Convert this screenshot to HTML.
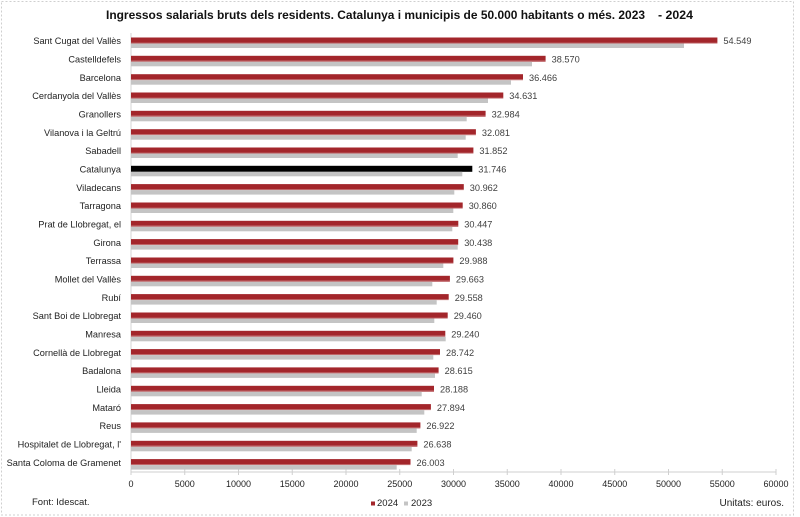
<!DOCTYPE html>
<html>
<head>
<meta charset="utf-8">
<style>
html,body{margin:0;padding:0;background:#fff;}
svg{display:block;}
text{font-family:"Liberation Sans",Arial,sans-serif;}
</style>
</head>
<body>
<svg width="800" height="517" viewBox="0 0 800 517" xmlns="http://www.w3.org/2000/svg">
<rect x="0" y="0" width="800" height="517" fill="#fff"/>
<rect x="1.5" y="1.5" width="792" height="513.5" fill="none" stroke="#cfcfcf" stroke-width="1" stroke-dasharray="2,2"/>

<!-- Title -->
<text x="106" y="19" font-size="11.5" font-weight="bold" fill="#111" textLength="539" lengthAdjust="spacingAndGlyphs">Ingressos salarials bruts dels residents. Catalunya i municipis de 50.000 habitants o més. 2023</text>
<text x="658" y="19" font-size="11.5" font-weight="bold" fill="#111" textLength="35" lengthAdjust="spacingAndGlyphs">- 2024</text>

<!-- axes -->
<line x1="131" y1="33" x2="131" y2="472" stroke="#d6d6d6" stroke-width="1"/>
<line x1="131" y1="472" x2="776" y2="472" stroke="#cfcfcf" stroke-width="1"/>
<g stroke="#cfcfcf" stroke-width="1">
<line x1="131" y1="469" x2="131" y2="475"/>
<line x1="184.75" y1="469" x2="184.75" y2="475"/>
<line x1="238.5" y1="469" x2="238.5" y2="475"/>
<line x1="292.25" y1="469" x2="292.25" y2="475"/>
<line x1="346" y1="469" x2="346" y2="475"/>
<line x1="399.75" y1="469" x2="399.75" y2="475"/>
<line x1="453.5" y1="469" x2="453.5" y2="475"/>
<line x1="507.25" y1="469" x2="507.25" y2="475"/>
<line x1="561" y1="469" x2="561" y2="475"/>
<line x1="614.75" y1="469" x2="614.75" y2="475"/>
<line x1="668.5" y1="469" x2="668.5" y2="475"/>
<line x1="722.25" y1="469" x2="722.25" y2="475"/>
<line x1="776" y1="469" x2="776" y2="475"/>
</g>
<g font-size="9" fill="#222" text-anchor="middle">
<text x="131" y="487">0</text>
<text x="184.75" y="487">5000</text>
<text x="238.5" y="487">10000</text>
<text x="292.25" y="487">15000</text>
<text x="346" y="487">20000</text>
<text x="399.75" y="487">25000</text>
<text x="453.5" y="487">30000</text>
<text x="507.25" y="487">35000</text>
<text x="561" y="487">40000</text>
<text x="614.75" y="487">45000</text>
<text x="668.5" y="487">50000</text>
<text x="722.25" y="487">55000</text>
<text x="776" y="487">60000</text>
</g>

<!-- rows -->
<g font-size="9.2">
<g transform="translate(0,37.5)">
<text x="121" y="6.7" text-anchor="end" fill="#222">Sant Cugat del Vallès</text>
<rect x="131" y="0" width="586.4" height="5" fill="#a3262b"/><rect x="131" y="5" width="586.4" height="1" fill="#ba5a5d"/>
<rect x="131" y="6" width="553" height="4.5" fill="#c4c4c4"/>
<text x="723.4" y="6.7" fill="#404040">54.549</text></g>

<g transform="translate(0,55.8)">
<text x="121" y="6.7" text-anchor="end" fill="#222">Castelldefels</text>
<rect x="131" y="0" width="414.6" height="5" fill="#a3262b"/><rect x="131" y="5" width="414.6" height="1" fill="#ba5a5d"/>
<rect x="131" y="6" width="401" height="4.5" fill="#c4c4c4"/>
<text x="551.6" y="6.7" fill="#404040">38.570</text></g>

<g transform="translate(0,74.2)">
<text x="121" y="6.7" text-anchor="end" fill="#222">Barcelona</text>
<rect x="131" y="0" width="392" height="5" fill="#a3262b"/><rect x="131" y="5" width="392" height="1" fill="#ba5a5d"/>
<rect x="131" y="6" width="380" height="4.5" fill="#c4c4c4"/>
<text x="529" y="6.7" fill="#404040">36.466</text></g>

<g transform="translate(0,92.5)">
<text x="121" y="6.7" text-anchor="end" fill="#222">Cerdanyola del Vallès</text>
<rect x="131" y="0" width="372.3" height="5" fill="#a3262b"/><rect x="131" y="5" width="372.3" height="1" fill="#ba5a5d"/>
<rect x="131" y="6" width="357" height="4.5" fill="#c4c4c4"/>
<text x="509.3" y="6.7" fill="#404040">34.631</text></g>

<g transform="translate(0,110.8)">
<text x="121" y="6.7" text-anchor="end" fill="#222">Granollers</text>
<rect x="131" y="0" width="354.6" height="5" fill="#a3262b"/><rect x="131" y="5" width="354.6" height="1" fill="#ba5a5d"/>
<rect x="131" y="6" width="335.7" height="4.5" fill="#c4c4c4"/>
<text x="491.6" y="6.7" fill="#404040">32.984</text></g>

<g transform="translate(0,129.2)">
<text x="121" y="6.7" text-anchor="end" fill="#222">Vilanova i la Geltrú</text>
<rect x="131" y="0" width="344.9" height="5" fill="#a3262b"/><rect x="131" y="5" width="344.9" height="1" fill="#ba5a5d"/>
<rect x="131" y="6" width="334.7" height="4.5" fill="#c4c4c4"/>
<text x="481.9" y="6.7" fill="#404040">32.081</text></g>

<g transform="translate(0,147.5)">
<text x="121" y="6.7" text-anchor="end" fill="#222">Sabadell</text>
<rect x="131" y="0" width="342.4" height="5" fill="#a3262b"/><rect x="131" y="5" width="342.4" height="1" fill="#ba5a5d"/>
<rect x="131" y="6" width="326.7" height="4.5" fill="#c4c4c4"/>
<text x="479.4" y="6.7" fill="#404040">31.852</text></g>

<g transform="translate(0,165.8)">
<text x="121" y="6.7" text-anchor="end" fill="#222">Catalunya</text>
<rect x="131" y="0" width="341.3" height="6" fill="#000"/>
<rect x="131" y="6" width="331.3" height="4.5" fill="#c4c4c4"/>
<text x="478.3" y="6.7" fill="#404040">31.746</text></g>

<g transform="translate(0,184.1)">
<text x="121" y="6.7" text-anchor="end" fill="#222">Viladecans</text>
<rect x="131" y="0" width="332.8" height="5" fill="#a3262b"/><rect x="131" y="5" width="332.8" height="1" fill="#ba5a5d"/>
<rect x="131" y="6" width="323.3" height="4.5" fill="#c4c4c4"/>
<text x="469.8" y="6.7" fill="#404040">30.962</text></g>

<g transform="translate(0,202.5)">
<text x="121" y="6.7" text-anchor="end" fill="#222">Tarragona</text>
<rect x="131" y="0" width="331.7" height="5" fill="#a3262b"/><rect x="131" y="5" width="331.7" height="1" fill="#ba5a5d"/>
<rect x="131" y="6" width="322.3" height="4.5" fill="#c4c4c4"/>
<text x="468.7" y="6.7" fill="#404040">30.860</text></g>

<g transform="translate(0,220.8)">
<text x="121" y="6.7" text-anchor="end" fill="#222">Prat de Llobregat, el</text>
<rect x="131" y="0" width="327.3" height="5" fill="#a3262b"/><rect x="131" y="5" width="327.3" height="1" fill="#ba5a5d"/>
<rect x="131" y="6" width="321.3" height="4.5" fill="#c4c4c4"/>
<text x="464.3" y="6.7" fill="#404040">30.447</text></g>

<g transform="translate(0,239.1)">
<text x="121" y="6.7" text-anchor="end" fill="#222">Girona</text>
<rect x="131" y="0" width="327.2" height="5" fill="#a3262b"/><rect x="131" y="5" width="327.2" height="1" fill="#ba5a5d"/>
<rect x="131" y="6" width="326.7" height="4.5" fill="#c4c4c4"/>
<text x="464.2" y="6.7" fill="#404040">30.438</text></g>

<g transform="translate(0,257.5)">
<text x="121" y="6.7" text-anchor="end" fill="#222">Terrassa</text>
<rect x="131" y="0" width="322.4" height="5" fill="#a3262b"/><rect x="131" y="5" width="322.4" height="1" fill="#ba5a5d"/>
<rect x="131" y="6" width="312.3" height="4.5" fill="#c4c4c4"/>
<text x="459.4" y="6.7" fill="#404040">29.988</text></g>

<g transform="translate(0,275.8)">
<text x="121" y="6.7" text-anchor="end" fill="#222">Mollet del Vallès</text>
<rect x="131" y="0" width="318.9" height="5" fill="#a3262b"/><rect x="131" y="5" width="318.9" height="1" fill="#ba5a5d"/>
<rect x="131" y="6" width="301.3" height="4.5" fill="#c4c4c4"/>
<text x="455.9" y="6.7" fill="#404040">29.663</text></g>

<g transform="translate(0,294.1)">
<text x="121" y="6.7" text-anchor="end" fill="#222">Rubí</text>
<rect x="131" y="0" width="317.7" height="5" fill="#a3262b"/><rect x="131" y="5" width="317.7" height="1" fill="#ba5a5d"/>
<rect x="131" y="6" width="305.7" height="4.5" fill="#c4c4c4"/>
<text x="454.7" y="6.7" fill="#404040">29.558</text></g>

<g transform="translate(0,312.5)">
<text x="121" y="6.7" text-anchor="end" fill="#222">Sant Boi de Llobregat</text>
<rect x="131" y="0" width="316.7" height="5" fill="#a3262b"/><rect x="131" y="5" width="316.7" height="1" fill="#ba5a5d"/>
<rect x="131" y="6" width="303.3" height="4.5" fill="#c4c4c4"/>
<text x="453.7" y="6.7" fill="#404040">29.460</text></g>

<g transform="translate(0,330.8)">
<text x="121" y="6.7" text-anchor="end" fill="#222">Manresa</text>
<rect x="131" y="0" width="314.3" height="5" fill="#a3262b"/><rect x="131" y="5" width="314.3" height="1" fill="#ba5a5d"/>
<rect x="131" y="6" width="314.7" height="4.5" fill="#c4c4c4"/>
<text x="451.3" y="6.7" fill="#404040">29.240</text></g>

<g transform="translate(0,349.1)">
<text x="121" y="6.7" text-anchor="end" fill="#222">Cornellà de Llobregat</text>
<rect x="131" y="0" width="309" height="5" fill="#a3262b"/><rect x="131" y="5" width="309" height="1" fill="#ba5a5d"/>
<rect x="131" y="6" width="302.3" height="4.5" fill="#c4c4c4"/>
<text x="446" y="6.7" fill="#404040">28.742</text></g>

<g transform="translate(0,367.4)">
<text x="121" y="6.7" text-anchor="end" fill="#222">Badalona</text>
<rect x="131" y="0" width="307.6" height="5" fill="#a3262b"/><rect x="131" y="5" width="307.6" height="1" fill="#ba5a5d"/>
<rect x="131" y="6" width="304" height="4.5" fill="#c4c4c4"/>
<text x="444.6" y="6.7" fill="#404040">28.615</text></g>

<g transform="translate(0,385.8)">
<text x="121" y="6.7" text-anchor="end" fill="#222">Lleida</text>
<rect x="131" y="0" width="303" height="5" fill="#a3262b"/><rect x="131" y="5" width="303" height="1" fill="#ba5a5d"/>
<rect x="131" y="6" width="290.7" height="4.5" fill="#c4c4c4"/>
<text x="440" y="6.7" fill="#404040">28.188</text></g>

<g transform="translate(0,404.1)">
<text x="121" y="6.7" text-anchor="end" fill="#222">Mataró</text>
<rect x="131" y="0" width="299.9" height="5" fill="#a3262b"/><rect x="131" y="5" width="299.9" height="1" fill="#ba5a5d"/>
<rect x="131" y="6" width="293.3" height="4.5" fill="#c4c4c4"/>
<text x="436.9" y="6.7" fill="#404040">27.894</text></g>

<g transform="translate(0,422.4)">
<text x="121" y="6.7" text-anchor="end" fill="#222">Reus</text>
<rect x="131" y="0" width="289.4" height="5" fill="#a3262b"/><rect x="131" y="5" width="289.4" height="1" fill="#ba5a5d"/>
<rect x="131" y="6" width="285.7" height="4.5" fill="#c4c4c4"/>
<text x="426.4" y="6.7" fill="#404040">26.922</text></g>

<g transform="translate(0,440.8)">
<text x="121" y="6.7" text-anchor="end" fill="#222">Hospitalet de Llobregat, l'</text>
<rect x="131" y="0" width="286.4" height="5" fill="#a3262b"/><rect x="131" y="5" width="286.4" height="1" fill="#ba5a5d"/>
<rect x="131" y="6" width="280.7" height="4.5" fill="#c4c4c4"/>
<text x="423.4" y="6.7" fill="#404040">26.638</text></g>

<g transform="translate(0,459.1)">
<text x="121" y="6.7" text-anchor="end" fill="#222">Santa Coloma de Gramenet</text>
<rect x="131" y="0" width="279.5" height="5" fill="#a3262b"/><rect x="131" y="5" width="279.5" height="1" fill="#ba5a5d"/>
<rect x="131" y="6" width="265.7" height="4.5" fill="#c4c4c4"/>
<text x="416.5" y="6.7" fill="#404040">26.003</text></g>
</g>

<!-- footer -->
<text x="32" y="505" font-size="9.5" fill="#222">Font: Idescat.</text>
<text x="784" y="506" font-size="10" fill="#222" text-anchor="end">Unitats: euros.</text>

<!-- legend -->
<rect x="371" y="501.5" width="4" height="4" fill="#a3262b"/>
<text x="377" y="506" font-size="9.5" fill="#222">2024</text>
<rect x="404" y="501.5" width="4" height="4" fill="#c4c4c4"/>
<text x="411" y="506" font-size="9.5" fill="#222">2023</text>
</svg>
</body>
</html>
